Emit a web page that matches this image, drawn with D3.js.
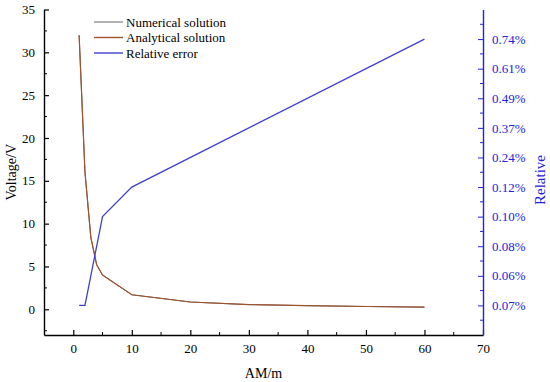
<!DOCTYPE html>
<html>
<head>
<meta charset="utf-8">
<script src="https://cdn.jsdelivr.net/npm/d3@7"></script>
<style>
  body { margin: 0; background: #fff; }
  svg text { font-family: "Liberation Serif", "Times New Roman", serif; }
</style>
</head>
<body>
<div id="chart"></div>
<script>
// distance values (AM/m)
var distance = [1, 2, 3, 4, 5, 10, 20, 30, 40, 50, 60];
// voltage (V)
var numerical = [32, 16, 8.4, 5.2, 4.0, 1.7, 0.85, 0.55, 0.42, 0.33, 0.25];
var analytical = [32, 16, 8.4, 5.2, 4.0, 1.7, 0.85, 0.55, 0.42, 0.33, 0.25];
// relative error, in right axis tick positions (the axis labels are not evenly spaced)
var errDistance = [1, 2, 5, 10, 60];
var errPos = [0, 0, 3, 4, 9];
var relLabels = ["0.07%", "0.06%", "0.08%", "0.10%", "0.12%", "0.24%", "0.37%", "0.49%", "0.61%", "0.74%"];
var legendNames = ["Numerical solution", "Analytical solution", "Relative error"];

var width = 550,
    height = 382,
    margin = {top: 9.5, right: 67, bottom: 47, left: 44};

var colours = ["#666666", "#a0522d", "#4040cc"],
    axisBlue = "#2222dd",
    serif = "'Liberation Serif', serif";

var svg = d3.select("#chart")
  .append("svg")
  .attr("width", width)
  .attr("height", height);

var x = d3.scaleLinear().domain([-5, 70]).range([margin.left, width - margin.right]);
var y = d3.scaleLinear().domain([-3, 35]).range([height - margin.bottom, margin.top]);
var y2 = d3.scaleLinear().domain([-1, 10]).range([height - margin.bottom, margin.top]);

// x axis
var xAxis = svg.append("g")
  .attr("transform", "translate(0," + (height - margin.bottom) + ")")
  .call(d3.axisBottom(x).tickValues(d3.range(0, 71, 10)).tickSizeInner(-5).tickSizeOuter(0).tickPadding(9));
xAxis.append("g").selectAll("line")
  .data(d3.range(5, 70, 10))
  .enter().append("line")
  .attr("x1", function(d) { return x(d); })
  .attr("x2", function(d) { return x(d); })
  .attr("y1", 0).attr("y2", -3)
  .attr("stroke", "#000");

// left axis
var yAxis = svg.append("g")
  .attr("transform", "translate(" + margin.left + ",0)")
  .call(d3.axisLeft(y).tickValues(d3.range(0, 36, 5)).tickSizeInner(-5).tickSizeOuter(0).tickPadding(9));
yAxis.append("g").selectAll("line")
  .data(d3.range(-2.5, 35, 5))
  .enter().append("line")
  .attr("y1", function(d) { return y(d); })
  .attr("y2", function(d) { return y(d); })
  .attr("x1", 0).attr("x2", 3)
  .attr("stroke", "#000");

// right axis
var y2Axis = svg.append("g")
  .attr("transform", "translate(" + (width - margin.right) + ",0)")
  .call(d3.axisRight(y2).tickValues(d3.range(0, relLabels.length))
    .tickFormat(function(d) { return relLabels[d]; })
    .tickSizeInner(-5).tickSizeOuter(0).tickPadding(9));
y2Axis.append("g").selectAll("line")
  .data(d3.range(-0.5, 10, 1))
  .enter().append("line")
  .attr("y1", function(d) { return y2(d); })
  .attr("y2", function(d) { return y2(d); })
  .attr("x1", 0).attr("x2", -3)
  .attr("stroke", axisBlue);
y2Axis.selectAll(".domain, .tick line").attr("stroke", axisBlue);
y2Axis.selectAll("text").attr("fill", axisBlue);

[xAxis, yAxis, y2Axis].forEach(function(a) {
  a.attr("font-family", serif).attr("font-size", 13);
  a.selectAll("text").style("font-size", "13px").style("font-family", serif);
  a.select(".domain").attr("stroke-width", 1.4);
});
xAxis.selectAll(".tick line").attr("stroke-width", 1.2);
yAxis.selectAll(".tick line").attr("stroke-width", 1.2);

// lines
var line = d3.line()
  .x(function(d) { return x(d[0]); })
  .y(function(d) { return y(d[1]); });

svg.append("path")
  .attr("d", line(d3.zip(distance, numerical)))
  .attr("fill", "none").attr("stroke", colours[0]).attr("stroke-width", 1);

svg.append("path")
  .attr("d", line(d3.zip(distance, analytical)))
  .attr("fill", "none").attr("stroke", colours[1]).attr("stroke-width", 1.2);

var errLine = d3.line()
  .x(function(d) { return x(d[0]); })
  .y(function(d) { return y2(d[1]); });

svg.append("path")
  .attr("d", errLine(d3.zip(errDistance, errPos)))
  .attr("fill", "none").attr("stroke", colours[2]).attr("stroke-width", 1.3);

// legend
var legend = svg.append("g").attr("transform", "translate(94,22)");
legend.selectAll("line")
  .data(legendNames)
  .enter().append("line")
  .attr("x1", 0).attr("x2", 29)
  .attr("y1", function(d, i) { return i * 15.5; })
  .attr("y2", function(d, i) { return i * 15.5; })
  .attr("stroke", function(d, i) { return colours[i]; })
  .attr("stroke-width", function(d, i) { return i == 0 ? 1 : 1.4; });
legend.selectAll("text")
  .data(legendNames)
  .enter().append("text")
  .attr("x", 32)
  .attr("y", function(d, i) { return i * 15.5 + 4.5; })
  .style("font-size", "13px")
  .text(function(d) { return d; });

// axis titles
svg.append("text")
  .attr("x", (margin.left + width - margin.right) / 2)
  .attr("y", 378)
  .attr("text-anchor", "middle")
  .style("font-size", "14px")
  .text("AM/m");

svg.append("text")
  .attr("transform", "translate(16," + ((margin.top + height - margin.bottom) / 2) + ") rotate(-90)")
  .attr("text-anchor", "middle")
  .style("font-size", "14px")
  .text("Voltage/V");

svg.append("text")
  .attr("transform", "translate(545,180) rotate(-90)")
  .attr("text-anchor", "middle")
  .attr("fill", axisBlue)
  .style("font-size", "15px")
  .text("Relative");
</script>
</body>
</html>
